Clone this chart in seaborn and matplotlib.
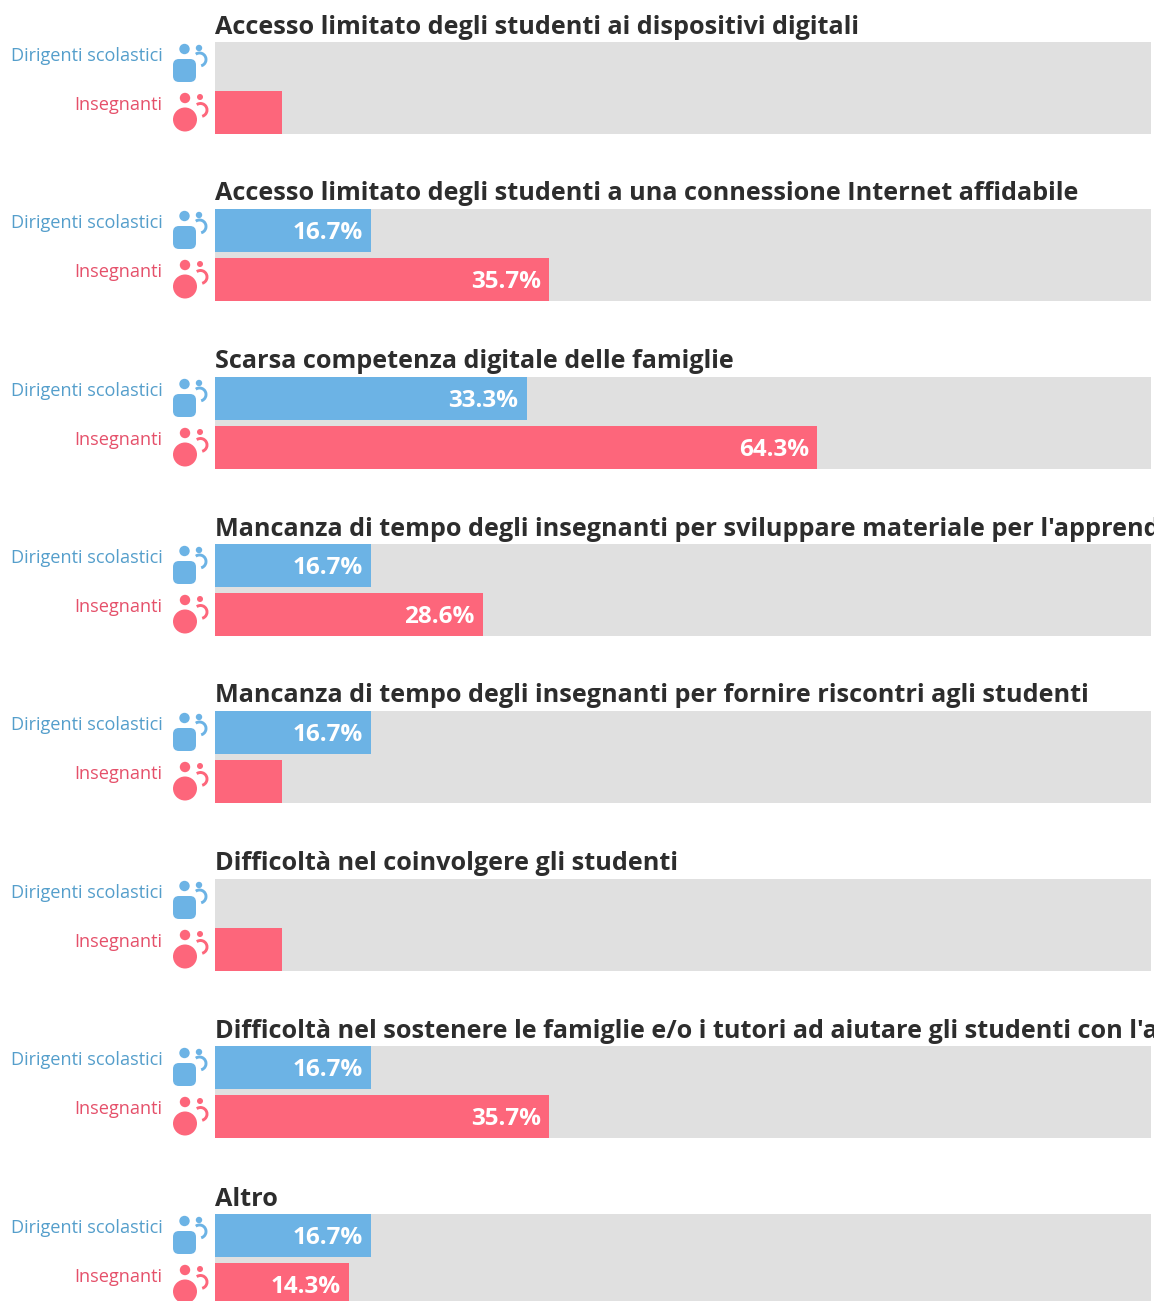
# Horizontal paired bars: school leaders vs teachers, one small panel per challenge.

import matplotlib

matplotlib.use("Agg")

import matplotlib.pyplot as plt
import pandas as pd
import seaborn as sns
from matplotlib.patches import Arc, Circle, FancyBboxPatch, Rectangle

TITLES = [
    "Accesso limitato degli studenti ai dispositivi digitali",
    "Accesso limitato degli studenti a una connessione Internet affidabile",
    "Scarsa competenza digitale delle famiglie",
    "Mancanza di tempo degli insegnanti per sviluppare materiale per l'apprendimento digitale",
    "Mancanza di tempo degli insegnanti per fornire riscontri agli studenti",
    "Difficoltà nel coinvolgere gli studenti",
    "Difficoltà nel sostenere le famiglie e/o i tutori ad aiutare gli studenti con l'apprendimento",
    "Altro",
]
GROUPS = ["Dirigenti scolastici", "Insegnanti"]
LEADERS = [0, 16.7, 33.3, 16.7, 16.7, 0, 16.7, 16.7]
TEACHERS = [7.1, 35.7, 64.3, 28.6, 7.1, 7.1, 35.7, 14.3]
MIN_LABEL = 10  # small bars carry no value label

BLUE = "#6cb3e5"
RED = "#fd667b"
BLUE_TEXT = "#549ecb"
RED_TEXT = "#e5506a"
GREY = "#e0e0e0"
DARK = "#2d2d2d"
FONT = "Open Sans"

WIDTH, HEIGHT = 1154, 1301
LEFT, AX_W, AX_H = 215, 936, 92
FIRST_TOP, STEP = 41.8, 167.4


def draw_icons(ax, top):
    # Blue figure: rounded body, head, small pupil with a curved arm
    ax.add_patch(FancyBboxPatch((178, top + 22), 13, 13, boxstyle="round,pad=5,rounding_size=6",
                                fc=BLUE, ec="none"))
    ax.add_patch(Circle((184.5, top + 7), 5.2, fc=BLUE, ec="none"))
    ax.add_patch(Circle((199, top + 6), 3.2, fc=BLUE, ec="none"))
    ax.add_patch(Arc((199.5, top + 17.5), 13, 13, theta1=-125, theta2=75, ec=BLUE, lw=2.1))
    # Red figure: round body
    ax.add_patch(Circle((185, top + 77.5), 12, fc=RED, ec="none"))
    ax.add_patch(Circle((185, top + 56), 5.2, fc=RED, ec="none"))
    ax.add_patch(Circle((200, top + 55), 3, fc=RED, ec="none"))
    ax.add_patch(Arc((200.5, top + 68), 13, 13, theta1=-125, theta2=75, ec=RED, lw=2.1))


sns.set_theme(style="white")
plt.rcParams["font.family"] = [FONT, "DejaVu Sans"]

fig = plt.figure(figsize=(WIDTH / 100, HEIGHT / 100), dpi=100)

for i, title in enumerate(TITLES):
    top = round(FIRST_TOP + STEP * i)
    ax = fig.add_axes([LEFT / WIDTH, 1 - (top + AX_H) / HEIGHT, AX_W / WIDTH, AX_H / HEIGHT])
    ax.set_facecolor(GREY)
    panel = pd.DataFrame({"group": GROUPS, "value": [LEADERS[i], TEACHERS[i]]})
    sns.barplot(data=panel, x="value", y="group", hue="group", order=GROUPS, hue_order=GROUPS,
                palette=[BLUE, RED], width=43 / 49, saturation=1, linewidth=0, legend=False, ax=ax)
    ax.set_xlim(0, 99.9)
    ax.set_ylim(1 + 43 / 98, -43 / 98)
    ax.set_xlabel("")
    ax.set_ylabel("")
    ax.set_xticks([])
    ax.set_yticks([])
    sns.despine(ax=ax, left=True, bottom=True)

    for row, val in enumerate(panel["value"]):
        if val >= MIN_LABEL:
            ax.annotate(f"{val:.1f}%", (val, row), xytext=(-6.2, -1.5), textcoords="offset points",
                        color="white", fontsize=17.5, fontweight="bold", ha="right", va="center")

# Overlay in pixel coordinates for titles, row labels and icons
overlay = fig.add_axes([0, 0, 1, 1])
overlay.set_xlim(0, WIDTH)
overlay.set_ylim(HEIGHT, 0)
overlay.axis("off")
clip = Rectangle((0, 0), LEFT + AX_W, HEIGHT, transform=overlay.transData)

for i, title in enumerate(TITLES):
    top = round(FIRST_TOP + STEP * i)
    t = overlay.text(LEFT, top - 15, title, fontsize=18.2, fontweight="bold", color=DARK,
                     ha="left", va="center")
    t.set_clip_path(clip)
    overlay.text(162.5, top + 14, GROUPS[0], fontsize=13.1, color=BLUE_TEXT, ha="right", va="center")
    overlay.text(162.5, top + 63, GROUPS[1], fontsize=13.1, color=RED_TEXT, ha="right", va="center")
    draw_icons(overlay, top)

fig.savefig("out.png", dpi=100)
plt.close(fig)
